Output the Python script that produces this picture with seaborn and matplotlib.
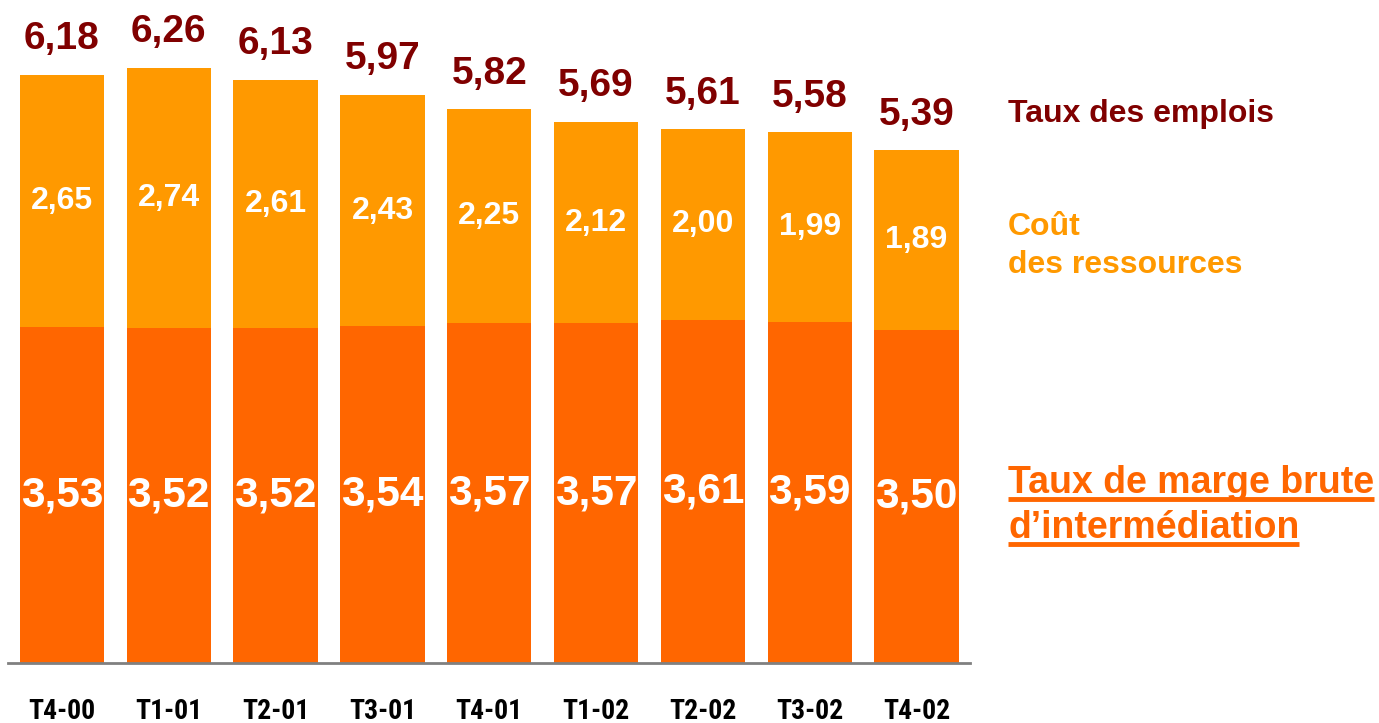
import matplotlib
matplotlib.use("Agg")
import matplotlib.pyplot as plt
import seaborn as sns
import pandas as pd
from matplotlib.lines import Line2D
from matplotlib import font_manager

periods = ["T4-00", "T1-01", "T2-01", "T3-01", "T4-01", "T1-02", "T2-02", "T3-02", "T4-02"]
taux_emplois = [6.18, 6.26, 6.13, 5.97, 5.82, 5.69, 5.61, 5.58, 5.39]
cout_ressources = [2.65, 2.74, 2.61, 2.43, 2.25, 2.12, 2.00, 1.99, 1.89]
marge_brute = [3.53, 3.52, 3.52, 3.54, 3.57, 3.57, 3.61, 3.59, 3.50]

C_DARK = "#FF6600"
C_LIGHT = "#FF9900"
C_RED = "#800000"

sns.set_theme(style="white")
plt.rcParams['font.family'] = ['Liberation Sans', 'DejaVu Sans']

def is_bold(w):
    if isinstance(w, str):
        return w.lower() in ("bold", "heavy", "black", "extra bold", "demibold", "semibold")
    return w >= 600

narrow = None
pref = ["Liberation Sans Narrow", "Arial Narrow", "Roboto Condensed", "Open Sans Condensed",
        "DejaVu Sans Condensed"]
bold_narrow = sorted({f.name for f in font_manager.fontManager.ttflist
                      if ("Narrow" in f.name or "Condensed" in f.name or
                          f.stretch in ("condensed", "semi-condensed") or
                          (isinstance(f.stretch, int) and f.stretch < 500))
                      and is_bold(f.weight)})
for p in pref:
    if p in bold_narrow:
        narrow = p
        break
if narrow is None and bold_narrow:
    narrow = bold_narrow[0]
tick_family = [narrow, 'Liberation Sans'] if narrow else ['Liberation Sans']
tick_size = 20 if narrow else 17.5

df = pd.DataFrame({"periode": periods, "emplois": taux_emplois,
                   "cout": cout_ressources, "marge": marge_brute})

fig = plt.figure(figsize=(13.79, 7.23), dpi=100)
ax = fig.add_axes([8/1379, 60/723, 962/1379, 663/723])

sns.barplot(data=df, x="periode", y="emplois", color=C_LIGHT, saturation=1,
            width=0.79, linewidth=0, ax=ax)
sns.barplot(data=df, x="periode", y="marge", color=C_DARK, saturation=1,
            width=0.79, linewidth=0, ax=ax)

ax.set_xlim(-0.505, 8.5)
ax.set_ylim(0, 6.97)
for s in ["top", "right", "left"]:
    ax.spines[s].set_visible(False)
ax.spines["bottom"].set_color("#808080")
ax.spines["bottom"].set_linewidth(2)
ax.set_xlabel("")
ax.set_ylabel("")
ax.set_yticks([])
ax.tick_params(axis="x", length=0, pad=25.5)
ax.set_xticks(range(len(periods)))
ax.set_xticklabels(periods, fontsize=tick_size, fontweight="bold", color="black",
                   family=tick_family)

def fmt(v):
    return f"{v:.2f}".replace(".", ",")

for i in range(len(periods)):
    ax.annotate(fmt(taux_emplois[i]), (i, taux_emplois[i]), xytext=(0, 18.5),
                textcoords="offset points", ha="center", va="baseline",
                fontsize=28, fontweight="bold", color=C_RED)
    ax.text(i, (marge_brute[i] + taux_emplois[i]) / 2, fmt(cout_ressources[i]),
            ha="center", va="center", fontsize=23, fontweight="bold", color="white")
    ax.text(i, marge_brute[i] / 2, fmt(marge_brute[i]),
            ha="center", va="center", fontsize=30.5, fontweight="bold", color="white")

H = 723
X0 = 1008 / 1379
fig.text(X0, 1 - 122/H, "Taux des emplois", ha="left", va="baseline",
         fontsize=23, fontweight="bold", color=C_RED)
fig.text(X0, 1 - 235/H, "Coût", ha="left", va="baseline",
         fontsize=23, fontweight="bold", color=C_LIGHT)
fig.text(X0, 1 - 273/H, "des ressources", ha="left", va="baseline",
         fontsize=23, fontweight="bold", color=C_LIGHT)
t1 = fig.text(X0, 1 - 493/H, "Taux de marge brute", ha="left", va="baseline",
              fontsize=27, fontweight="bold", color=C_DARK)
t2 = fig.text(X0, 1 - 538/H, "d\u2019intermédiation", ha="left", va="baseline",
              fontsize=27, fontweight="bold", color=C_DARK)

fig.canvas.draw()
r = fig.canvas.get_renderer()
for t, ypix in [(t1, 498.5), (t2, 543.5)]:
    bb = t.get_window_extent(renderer=r)
    fig.add_artist(Line2D([bb.x0 / 1379, bb.x1 / 1379], [1 - ypix / H, 1 - ypix / H],
                          transform=fig.transFigure, color=C_DARK, linewidth=3.5,
                          solid_capstyle="butt"))

fig.savefig("out.png", dpi=100, facecolor="white")
